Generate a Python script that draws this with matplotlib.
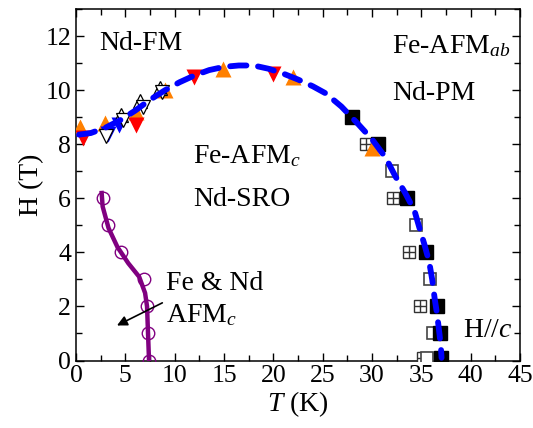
import matplotlib
matplotlib.use('Agg')
import matplotlib.pyplot as plt
from matplotlib.ticker import MultipleLocator

plt.rcParams['font.family'] = ['Liberation Serif', 'DejaVu Serif']
plt.rcParams['mathtext.fontset'] = 'custom'
plt.rcParams['mathtext.rm'] = 'Liberation Serif'
plt.rcParams['mathtext.it'] = 'Liberation Serif:italic'

# phase boundary points (T in K, H in T)
sq_full_T = [28.0, 30.6, 33.5, 35.5, 36.6, 36.9, 37.0]
sq_full_H = [9.0, 8.0, 6.0, 4.0, 2.0, 1.0, 0.1]
sq_open_T = [32.0, 34.5, 35.9, 36.2, 35.6]
sq_open_H = [7.0, 5.0, 3.0, 1.0, 0.1]
sq_cross_T = [29.4, 32.1, 33.8, 34.9, 35.2]
sq_cross_H = [8.0, 6.0, 4.0, 2.0, 0.1]

tri_up_T = [0.4, 2.9, 6.1, 9.0, 14.9, 22.0, 30.0]
tri_up_H = [8.65, 8.8, 9.2, 10.0, 10.8, 10.5, 7.85]
tri_dn_T = [0.7, 6.1, 12.0, 20.0]
tri_dn_H = [8.25, 8.7, 10.5, 10.6]
blue_dn_T = [3.2, 4.4]
blue_dn_H = [8.4, 8.7]
open_dn_T = [3.0, 4.8, 6.8, 8.7]
open_dn_H = [8.3, 8.9, 9.4, 9.95]
open_up_T = [4.6, 6.5, 8.5]
open_up_H = [9.1, 9.6, 10.1]

# boundary drawn as dashed guide
fit_T = [0.3, 1.5, 3.0, 4.5, 6.0, 7.5, 9.0, 10.5, 12.0, 13.5, 15.0, 16.5, 18.0,
         19.5, 21.0, 22.5, 24.0, 25.3, 26.9, 28.6, 30.0, 31.4, 32.35, 33.35,
         34.3, 34.8, 35.3, 35.8, 36.1, 36.35, 36.6, 36.85, 37.0, 37.05]
fit_H = [8.36, 8.42, 8.62, 8.9, 9.25, 9.65, 10.0, 10.3, 10.55, 10.75, 10.87,
         10.92, 10.92, 10.8, 10.62, 10.4, 10.15, 9.89, 9.4, 8.75, 8.19, 7.5,
         6.83, 6.21, 5.55, 4.92, 4.31, 3.64, 3.0, 2.3, 1.7, 0.95, 0.4, 0.1]

# low temperature Fe & Nd AFMc boundary
circ_T = [2.7, 3.2, 4.6, 6.9, 7.2, 7.3, 7.4]
circ_H = [6.0, 5.0, 4.0, 3.0, 2.0, 1.0, 0.0]
line_T = [2.6, 2.7, 3.3, 4.2, 5.3, 6.4, 7.0, 7.2, 7.3, 7.4]
line_H = [6.2, 5.7, 4.9, 4.2, 3.6, 3.1, 2.5, 2.0, 1.0, 0.0]

fig = plt.figure(figsize=(5.33, 4.28), dpi=100)
ax = fig.add_axes([0.1426, 0.1577, 0.833, 0.8206])

ax.plot(line_T, line_H, color='#800080', lw=3.2, zorder=3)
ax.plot(circ_T, circ_H, 'o', ms=9, mfc='none', mec='#800080', mew=1.0, zorder=4)

ax.plot(sq_cross_T, sq_cross_H, 's', ms=8.5, mfc='white', mec='#333333', mew=1.0, zorder=4)
ax.plot(sq_cross_T, sq_cross_H, '+', ms=8.5, mec='#333333', mew=1.0, zorder=4)
ax.plot(sq_open_T, sq_open_H, 's', ms=8.5, mfc='white', mec='#444444', mew=1.2, zorder=4)
ax.plot(sq_full_T, sq_full_H, 's', ms=9.5, color='black', zorder=4)

ax.plot(tri_up_T, tri_up_H, '^', ms=11.5, color='#ff8000', mec='none', zorder=4)
ax.plot(tri_dn_T, tri_dn_H, 'v', ms=11.5, color='#ff0000', mec='none', zorder=4)
ax.plot(blue_dn_T, blue_dn_H, 'v', ms=12, color='#0000ff', mec='none', zorder=4)
ax.plot(open_up_T, open_up_H, '^', ms=10, mfc='white', mec='black', mew=0.9, zorder=5)
ax.plot(open_dn_T, open_dn_H, 'v', ms=10, mfc='white', mec='black', mew=0.9, zorder=5)

ax.plot(fit_T, fit_H, color='#0000ff', lw=4.2, dashes=(2.8, 2.0),
        dash_capstyle='round', zorder=6)

ax.annotate('', xy=(3.9, 1.25), xytext=(9.0, 2.18),
            arrowprops=dict(arrowstyle='-|>', color='black', lw=1.2,
                            mutation_scale=15), zorder=7)

fs = 20
ax.text(2.4, 11.72, 'Nd-FM', fontsize=fs, va='center', ha='left')
ax.text(32.0, 11.62, 'Fe-AFM$_{ab}$', fontsize=fs, va='center', ha='left')
ax.text(32.0, 9.9, 'Nd-PM', fontsize=fs, va='center', ha='left')
ax.text(11.9, 7.55, 'Fe-AFM$_c$', fontsize=fs, va='center', ha='left')
ax.text(11.9, 5.97, 'Nd-SRO', fontsize=fs, va='center', ha='left')
ax.text(9.1, 2.85, 'Fe & Nd', fontsize=fs, va='center', ha='left')
ax.text(9.1, 1.67, 'AFM$_c$', fontsize=fs, va='center', ha='left')
ax.text(39.2, 1.12, 'H//$c$', fontsize=fs, va='center', ha='left')

ax.set_xlim(0, 45)
ax.set_ylim(0, 13)
ax.xaxis.set_major_locator(MultipleLocator(5))
ax.xaxis.set_minor_locator(MultipleLocator(2.5))
ax.yaxis.set_major_locator(MultipleLocator(2))
ax.yaxis.set_minor_locator(MultipleLocator(1))
ax.tick_params(which='both', direction='in', top=True, right=True,
               labelsize=18.5, width=1.0)
ax.tick_params(which='major', length=6)
ax.tick_params(which='minor', length=4)
for sp in ax.spines.values():
    sp.set_linewidth(1.1)

ax.set_xlabel('$T$ (K)', fontsize=20, labelpad=1)
ax.set_ylabel('H (T)', fontsize=20, labelpad=1)

fig.savefig('out.png', dpi=100)
